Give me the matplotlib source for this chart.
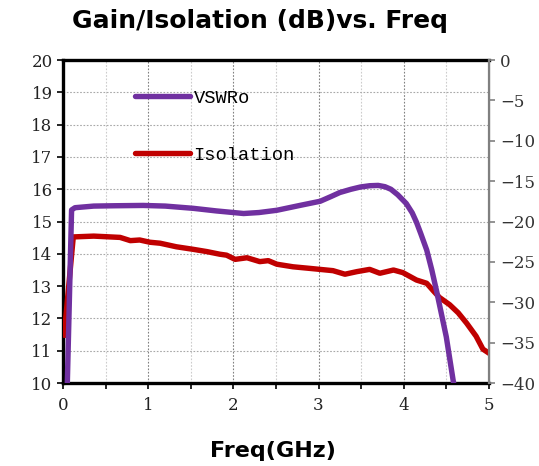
import numpy as np
import matplotlib
matplotlib.use("Agg")
import matplotlib.pyplot as plt
from matplotlib.lines import Line2D
from matplotlib.ticker import MultipleLocator

# VSWRo (left axis)
vswr_f = [0.05, 0.10, 0.14, 0.36, 0.60, 0.94, 1.20, 1.53, 1.80, 2.12, 2.30, 2.51,
          2.78, 3.02, 3.15, 3.25, 3.38, 3.49, 3.60, 3.70, 3.78, 3.85, 3.93, 4.03, 4.10,
          4.15, 4.20, 4.27, 4.33, 4.39, 4.50, 4.58, 4.62]
vswr_db = [10.0, 15.36, 15.43, 15.48, 15.49, 15.50, 15.48, 15.41, 15.33, 15.25, 15.28, 15.35,
           15.50, 15.63, 15.78, 15.90, 16.00, 16.07, 16.11, 16.12, 16.08, 16.00, 15.83, 15.56,
           15.27, 14.98, 14.63, 14.12, 13.50, 12.80, 11.43, 10.09, 9.5]

# Isolation (right axis)
iso_f = [0.01, 0.12, 0.36, 0.67, 0.79, 0.90, 1.02, 1.14, 1.33, 1.53, 1.69, 1.84, 1.92,
         2.02, 2.16, 2.31, 2.41, 2.51, 2.70, 2.90, 3.17, 3.31, 3.45, 3.60, 3.72, 3.88,
         3.99, 4.15, 4.27, 4.35, 4.42, 4.54, 4.64, 4.74, 4.85, 4.93, 5.03]
iso_db = [-34.4, -21.9, -21.8, -21.96, -22.36, -22.28, -22.56, -22.68, -23.12, -23.44, -23.72,
          -24.04, -24.16, -24.68, -24.48, -24.96, -24.84, -25.28, -25.6, -25.8, -26.08, -26.52,
          -26.2, -25.92, -26.4, -26.0, -26.32, -27.24, -27.64, -28.6, -29.4, -30.3, -31.3,
          -32.6, -34.2, -35.8, -36.5]

purple = "#7030A0"
red = "#C00000"
serif = "DejaVu Serif"

fig = plt.figure(figsize=(5.39, 4.66), dpi=100)
ax = fig.add_axes([0.117, 0.178, 0.790, 0.693])
ax2 = ax.twinx()
# overlay so the VSWRo trace sits on top of isolation
ax3 = fig.add_axes(ax.get_position(), sharex=ax, sharey=ax)
ax3.axis("off")
ax3.patch.set_visible(False)

ax.set_xlim(0, 5)
ax.set_ylim(10, 20)
ax2.set_ylim(-40, 0)

ax.xaxis.set_major_locator(MultipleLocator(1))
ax.xaxis.set_minor_locator(MultipleLocator(0.5))
ax.yaxis.set_major_locator(MultipleLocator(1))
ax2.yaxis.set_major_locator(MultipleLocator(5))

ax.grid(which="major", axis="x", color="#808080", linestyle=(0, (1.5, 1.5)), linewidth=0.8)
ax.grid(which="minor", axis="x", color="#cccccc", linestyle=(0, (1.5, 1.5)), linewidth=0.8)
ax.grid(which="major", axis="y", color="#a8a8a8", linestyle=(0, (1.5, 1.5)), linewidth=0.8)
ax.set_axisbelow(True)

ax2.plot(iso_f, iso_db, color=red, linewidth=3.9, solid_capstyle="butt",
         solid_joinstyle="round")
ax3.plot(vswr_f, vswr_db, color=purple, linewidth=3.9, solid_capstyle="butt",
         solid_joinstyle="round")

for s in ["left", "top", "bottom"]:
    ax.spines[s].set_linewidth(2.4)
    ax.spines[s].set_color("black")
ax2.spines["right"].set_color("#808080")
ax2.spines["right"].set_linewidth(1.6)
for s in ["left", "top", "bottom"]:
    ax2.spines[s].set_visible(False)

ax.tick_params(axis="both", which="both", direction="out", length=4, width=1.2,
               labelsize=12, labelcolor="#222222")
ax.tick_params(axis="x", pad=6)
ax2.tick_params(axis="y", direction="out", length=4, width=1.2, color="#808080",
                labelsize=12, labelcolor="#333333", pad=4)
for lab in ax.get_xticklabels() + ax.get_yticklabels() + ax2.get_yticklabels():
    lab.set_family(serif)

handles = [Line2D([], [], color=purple, linewidth=3.9, solid_capstyle="round"),
           Line2D([], [], color=red, linewidth=3.9, solid_capstyle="round")]
ax3.legend(handles, ["VSWRo", "Isolation"], loc="upper left",
           bbox_to_anchor=(0.13, 0.96), frameon=False, handlelength=2.9,
           handletextpad=0.2, labelspacing=2.1,
           prop={"family": "Liberation Mono", "size": 13.5})

fig.text(0.482, 0.955, "Gain/Isolation (dB)vs. Freq", ha="center", va="center",
         fontsize=18, fontweight="bold", family="DejaVu Sans")
fig.text(0.506, 0.032, "Freq(GHz)", ha="center", va="center",
         fontsize=16, fontweight="bold", family="DejaVu Sans")

fig.savefig("out.png", dpi=100)
